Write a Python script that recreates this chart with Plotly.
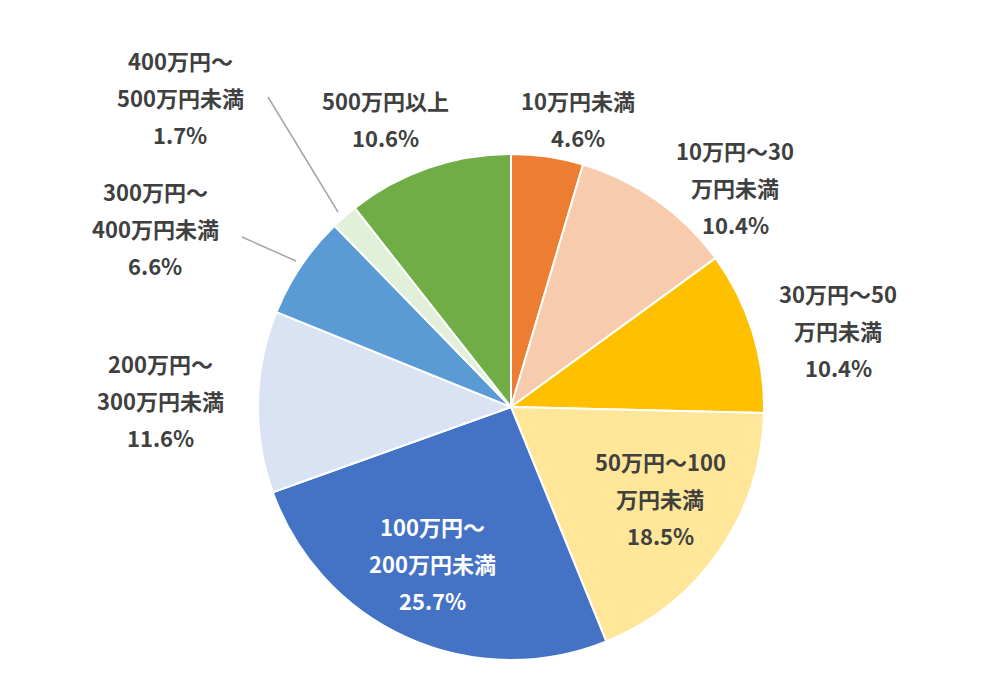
import plotly.graph_objects as go

labels = ["10万円未満", "10万円～30万円未満", "30万円～50万円未満", "50万円～100万円未満",
          "100万円～200万円未満", "200万円～300万円未満", "300万円～400万円未満",
          "400万円～500万円未満", "500万円以上"]
values = [4.6, 10.4, 10.4, 18.5, 25.7, 11.6, 6.6, 1.7, 10.6]
colors = ["#ED7D31", "#F8CBAD", "#FFC000", "#FFE699", "#4472C4",
          "#DAE3F3", "#5B9BD5", "#E2F0D9", "#70AD47"]
label_lines = [["10万円未満"], ["10万円～30", "万円未満"], ["30万円～50", "万円未満"],
               ["50万円～100", "万円未満"], ["100万円～", "200万円未満"], ["200万円～", "300万円未満"],
               ["300万円～", "400万円未満"], ["400万円～", "500万円未満"], ["500万円以上"]]
# label block centres in screen pixels
label_px = [(578, 118), (735, 187), (838, 330), (660, 498), (432, 563),
            (160, 400), (155, 228), (180, 97), (385, 118)]

W, H, OFF, LINE = 1000, 698, 8, 37


def px(x, y):
    return (x - OFF) / W, 1 - (y - OFF) / H


cx, cy, r = 511, 407, 253
x0, y0 = px(cx - r, cy + r)
x1, y1 = px(cx + r, cy - r)

fig = go.Figure(go.Pie(
    labels=labels, values=values, sort=False, direction="clockwise", rotation=0,
    marker=dict(colors=colors, line=dict(color="white", width=2)),
    textinfo="none", hoverinfo="label+percent",
    domain=dict(x=[x0, x1], y=[y0, y1]),
))

for i, (lines, (lx, ly)) in enumerate(zip(label_lines, label_px)):
    rows = lines + [f"{values[i]:.1f}%"]
    top = ly - LINE * (len(rows) - 1) / 2
    for j, row in enumerate(rows):
        ax, ay = px(lx, top + j * LINE)
        fig.add_annotation(
            x=ax, y=ay, xref="paper", yref="paper", showarrow=False,
            xanchor="center", yanchor="middle", text=row,
            font=dict(size=22, color="white" if i == 4 else "#404040",
                      family="Noto Sans CJK JP", weight="bold"),
        )

# leader lines
for (a, b), (c, d) in [((242, 237), (296, 261)), ((268, 97), (338, 212))]:
    sx, sy = px(a, b)
    ex, ey = px(c, d)
    fig.add_shape(type="line", xref="paper", yref="paper", x0=sx, y0=sy, x1=ex, y1=ey,
                  line=dict(color="#A6A6A6", width=1.5))

fig.update_layout(width=W, height=H, margin=dict(l=0, r=0, t=0, b=0),
                  showlegend=False, paper_bgcolor="white")
fig.write_html("out.html")
